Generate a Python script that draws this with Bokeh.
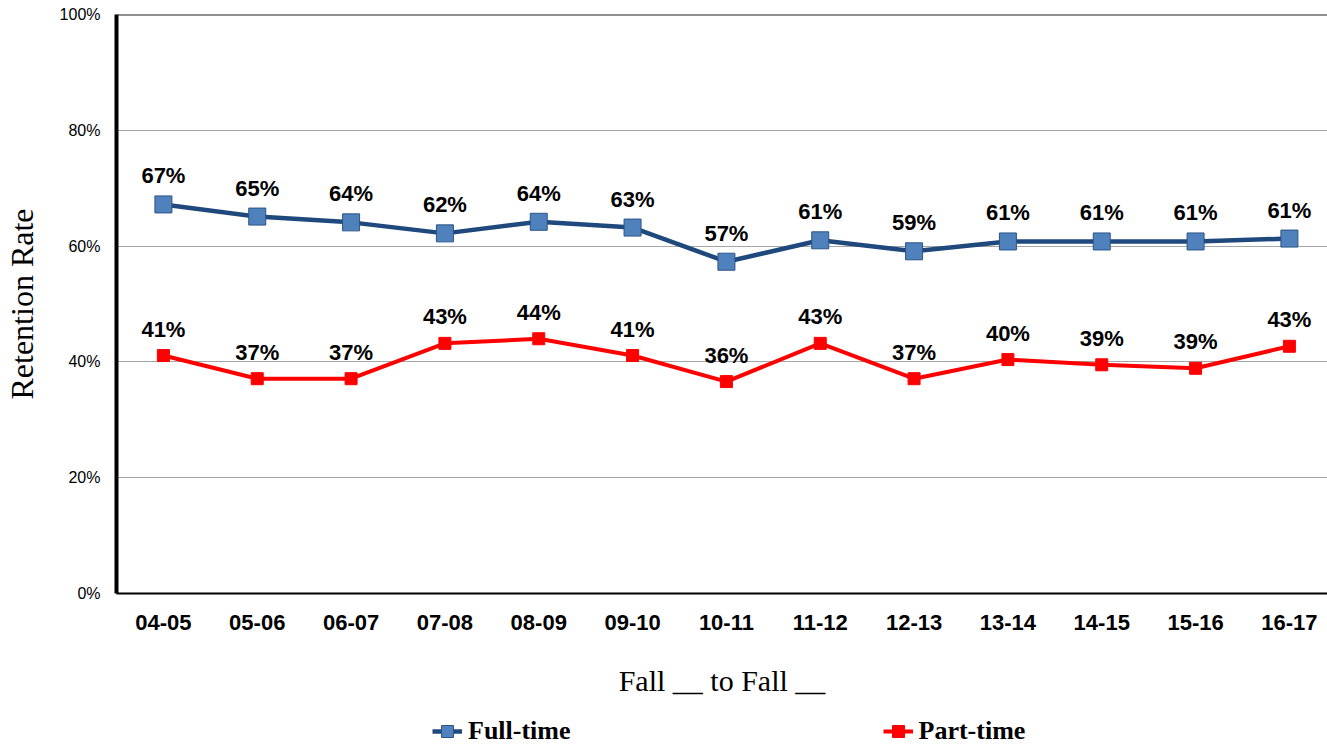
from bokeh.plotting import figure
from bokeh.layouts import column
from bokeh.models import (ColumnDataSource, Legend, LegendItem, Span, FixedTicker,
                          CustomJSTickFormatter, Range1d)
from bokeh.embed import file_html
from bokeh.resources import INLINE
from bokeh.core.properties import value

categories = ["04-05", "05-06", "06-07", "07-08", "08-09", "09-10", "10-11",
              "11-12", "12-13", "13-14", "14-15", "15-16", "16-17"]
full_time = [67.2, 65.1, 64.1, 62.2, 64.2, 63.2, 57.3, 61.0, 59.1, 60.8, 60.8, 60.8, 61.3]
full_labels = ["67%", "65%", "64%", "62%", "64%", "63%", "57%", "61%", "59%", "61%", "61%", "61%", "61%"]
part_time = [41.1, 37.1, 37.1, 43.2, 44.0, 41.1, 36.6, 43.2, 37.1, 40.4, 39.5, 38.9, 42.7]
part_labels = ["41%", "37%", "37%", "43%", "44%", "41%", "36%", "43%", "37%", "40%", "39%", "39%", "43%"]
series_names = ["Full-time", "Part-time"]
y_ticks = [0, 20, 40, 60, 80, 100]

SANS = "Liberation Sans"
SERIF = "Liberation Serif"

FT_LINE, FT_FILL, FT_EDGE = "#1F497D", "#4F81BD", "#2C5486"
PT_COLOR = "#FF0000"

# category slots: each category occupies one unit, centred at i + 0.5
xpos = [i + 0.5 for i in range(len(categories))]

p = figure(x_range=Range1d(0, 12.906), y_range=(0, 100), frame_width=1211, frame_height=579,
           output_backend="svg", toolbar_location=None,
           min_border_left=108, min_border_right=0, min_border_top=14, min_border_bottom=112)
p.outline_line_color = None
p.background_fill_color = "white"

# y axis
p.yaxis.ticker = FixedTicker(ticks=y_ticks)
p.yaxis.formatter = CustomJSTickFormatter(code="return tick + '%';")
p.yaxis.axis_line_width = 4
p.yaxis.axis_line_color = "black"
p.yaxis.major_tick_line_color = None
p.yaxis.minor_tick_line_color = None
p.yaxis.major_label_text_font = SANS
p.yaxis.major_label_text_font_size = "16px"
p.yaxis.major_label_text_color = "black"
p.yaxis.major_label_standoff = 10
p.yaxis.axis_label = "Retention Rate"
p.yaxis.axis_label_text_font = SERIF
p.yaxis.axis_label_text_font_size = "32px"
p.yaxis.axis_label_text_font_style = "normal"
p.yaxis.axis_label_text_color = "black"
p.yaxis.axis_label_standoff = 17

# x axis
p.xaxis.ticker = FixedTicker(ticks=xpos)
p.xaxis.major_label_overrides = {x: c for x, c in zip(xpos, categories)}
p.xaxis.axis_line_width = 2
p.xaxis.axis_line_color = "black"
p.xaxis.major_tick_line_color = None
p.xaxis.minor_tick_line_color = None
p.xaxis.major_label_text_font = SANS
p.xaxis.major_label_text_font_size = "22px"
p.xaxis.major_label_text_font_style = "bold"
p.xaxis.major_label_text_color = "black"
p.xaxis.major_label_standoff = 15
p.xaxis.axis_label = "Fall __ to Fall __"
p.xaxis.axis_label_text_font = SERIF
p.xaxis.axis_label_text_font_size = "30px"
p.xaxis.axis_label_text_font_style = "normal"
p.xaxis.axis_label_text_color = "black"
p.xaxis.axis_label_standoff = 31

p.xgrid.grid_line_color = None
p.ygrid.grid_line_color = "#A6A6A6"
p.ygrid.grid_line_width = 1

p.add_layout(Span(location=100, dimension="width", line_color="#222222", line_width=2))

src_f = ColumnDataSource(dict(x=xpos, y=full_time, t=full_labels))
src_p = ColumnDataSource(dict(x=xpos, y=part_time, t=part_labels))

p.line("x", "y", source=src_f, line_color=FT_LINE, line_width=4.5)
p.scatter("x", "y", source=src_f, marker="square", size=17,
          fill_color=FT_FILL, line_color=FT_EDGE, line_width=1)
p.line("x", "y", source=src_p, line_color=PT_COLOR, line_width=4)
p.scatter("x", "y", source=src_p, marker="square", size=12,
          fill_color=PT_COLOR, line_color=PT_COLOR, line_width=1)

p.text("x", "y", text="t", source=src_f, text_font=value(SANS), text_font_size="22px",
       text_font_style="bold", text_align="center", text_baseline="bottom",
       y_offset=-16, text_color="black")
p.text("x", "y", text="t", source=src_p, text_font=value(SANS), text_font_size="22px",
       text_font_style="bold", text_align="center", text_baseline="bottom",
       y_offset=-14, text_color="black")

# legend strip below the chart (its own small figure so the legend is not clipped);
# its renderers share the series sources but lie outside this strip's ranges
q = figure(x_range=Range1d(-2, -1), y_range=Range1d(-2, -1), width=1319, height=42,
           output_backend="svg", toolbar_location=None,
           min_border_left=0, min_border_right=0, min_border_top=0, min_border_bottom=0)
q.axis.visible = False
q.grid.visible = False
q.outline_line_color = None
qf_l = q.line("x", "y", source=src_f, line_color=FT_LINE, line_width=4.5)
qf_m = q.scatter("x", "y", source=src_f, marker="square", size=15,
                 fill_color=FT_FILL, line_color=FT_EDGE, line_width=1)
qp_l = q.line("x", "y", source=src_p, line_color=PT_COLOR, line_width=4)
qp_m = q.scatter("x", "y", source=src_p, marker="square", size=12,
                 fill_color=PT_COLOR, line_color=PT_COLOR, line_width=1)

legend = Legend(items=[LegendItem(label=series_names[0], renderers=[qf_l, qf_m]),
                       LegendItem(label=series_names[1], renderers=[qp_l, qp_m])],
                orientation="horizontal", location=(316, 0),
                spacing=312, glyph_width=30, glyph_height=32, label_standoff=6,
                label_text_font=SERIF, label_text_font_size="26px",
                label_text_font_style="bold", label_text_color="black",
                border_line_color=None, background_fill_alpha=0,
                inactive_fill_alpha=0, margin=0, padding=0)
q.add_layout(legend, "center")

layout = column(p, q, spacing=0)
open("out.html", "w").write(file_html(layout, INLINE))
